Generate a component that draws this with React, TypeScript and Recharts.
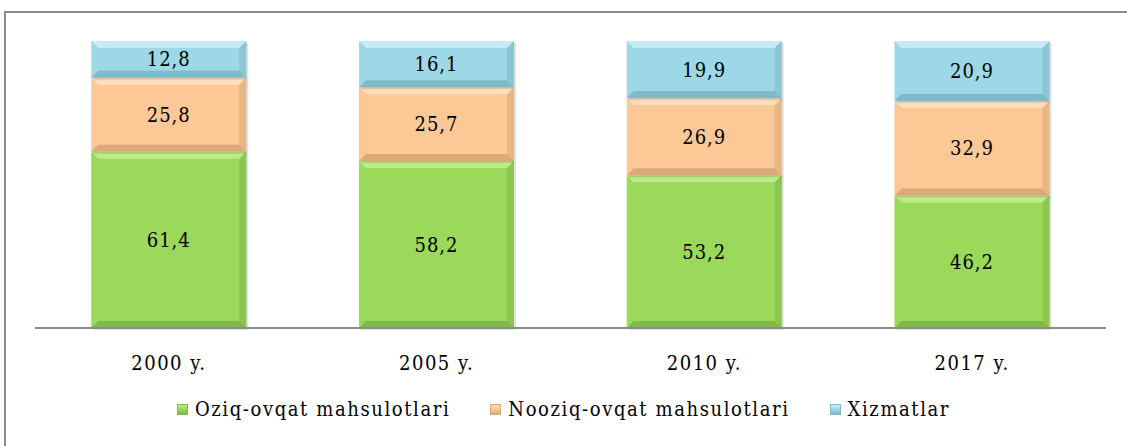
import { BarChart, Bar, XAxis, YAxis, LabelList } from "recharts";

const years = ["2000 y.", "2005 y.", "2010 y.", "2017 y."];
const food = [61.4, 58.2, 53.2, 46.2];
const nonFood = [25.8, 25.7, 26.9, 32.9];
const services = [12.8, 16.1, 19.9, 20.9];

const SERIES = [
  { key: "food", name: "Oziq-ovqat mahsulotlari", color: "#9bd95a", light: "#bdeb88", dark: "#80b948" },
  { key: "nonFood", name: "Nooziq-ovqat mahsulotlari", color: "#fbc896", light: "#ffdfbb", dark: "#dcaa7a" },
  { key: "services", name: "Xizmatlar", color: "#9dd8e7", light: "#c5ecf6", dark: "#80b9c8" },
];

const data = years.map((year, i) => ({
  year,
  food: food[i],
  nonFood: nonFood[i],
  services: services[i],
}));

const FONT = "'DejaVu Serif Condensed', 'DejaVu Serif', serif";

function bevel(s: (typeof SERIES)[number]) {
  return (props: any) => {
    const { x, y, width: w, height: h } = props;
    const b = Math.min(7, h / 3);
    return (
      <g>
        <rect x={x + 2} y={y + 2} width={w} height={h} fill="#000" opacity={0.12} />
        <rect x={x} y={y} width={w} height={h} fill={s.color} />
        <polygon points={`${x},${y} ${x + w},${y} ${x + w - b},${y + b} ${x + b},${y + b}`} fill={s.light} />
        <polygon points={`${x},${y + h} ${x + w},${y + h} ${x + w - b},${y + h - b} ${x + b},${y + h - b}`} fill={s.dark} />
        <polygon points={`${x + w},${y} ${x + w - b},${y + b} ${x + w - b},${y + h - b} ${x + w},${y + h}`} fill={s.dark} opacity={0.6} />
      </g>
    );
  };
}

function LegendRow() {
  return (
    <div
      style={{
        position: "absolute",
        top: 397,
        left: 0,
        width: 1127,
        display: "flex",
        justifyContent: "center",
        fontFamily: FONT,
        fontSize: 20,
        letterSpacing: 1.6,
        color: "#000",
      }}
    >
      {SERIES.map((s, i) => (
        <div key={s.key} style={{ display: "flex", alignItems: "center", marginRight: i < SERIES.length - 1 ? 40 : 0 }}>
          <span
            style={{
              width: 11,
              height: 11,
              marginRight: 7,
              background: `linear-gradient(${s.light}, ${s.color} 50%, ${s.dark})`,
              border: `1px solid ${s.dark}`,
              boxSizing: "border-box",
            }}
          />
          {s.name}
        </div>
      ))}
    </div>
  );
}

export default function App() {
  return (
    <div style={{ position: "absolute", left: 0, top: 0, width: 1127, height: 446, overflow: "hidden", background: "#fff" }}>
      <div
        style={{
          position: "absolute",
          left: 4,
          top: 11,
          width: 1140,
          height: 460,
          border: "2px solid #8c8c8c",
        }}
      />
      <BarChart
        width={1127}
        height={446}
        data={data}
        margin={{ top: 41, right: 21, left: 35, bottom: 88 }}
        barCategoryGap="21%"
        style={{ position: "absolute", left: 0, top: 0 }}
      >
        <YAxis hide domain={[0, 100]} />
        <XAxis
          dataKey="year"
          axisLine={{ stroke: "#8c8c8c", strokeWidth: 2 }}
          tickLine={false}
          tick={{ fontFamily: FONT, fontSize: 20, fill: "#000", letterSpacing: 1.5 }}
          dy={20}
        />
        {SERIES.map((s) => (
          <Bar key={s.key} dataKey={s.key} stackId="a" fill={s.color} shape={bevel(s)} isAnimationActive={false}>
            <LabelList
              dataKey={s.key}
              position="center"
              formatter={(v: number) => v.toFixed(1).replace(".", ",")}
              style={{ fontFamily: FONT, fontSize: 20, fill: "#000", letterSpacing: 1 }}
            />
          </Bar>
        ))}
      </BarChart>
      <LegendRow />
    </div>
  );
}
